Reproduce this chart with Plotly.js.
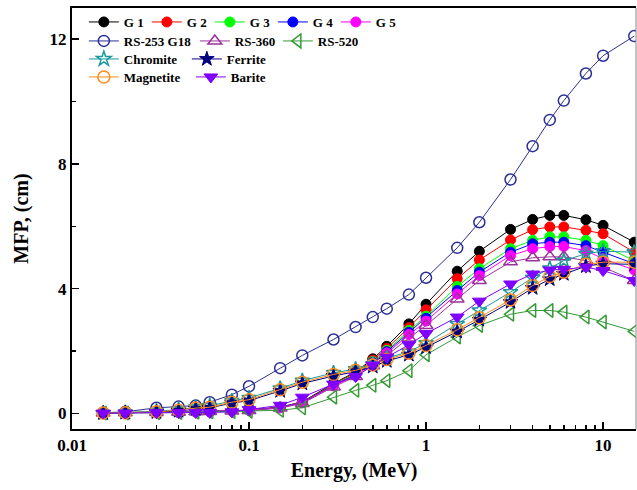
<!DOCTYPE html>
<html>
<head>
<meta charset="utf-8">
<script src="https://cdn.plot.ly/plotly-3.0.1.min.js"></script>
<style>
html,body{margin:0;padding:0;background:#fff;}
#chart{width:637px;height:490px;}
</style>
</head>
<body>
<div id="chart"></div>
<script>
// Photon energies (MeV)
const energy = [0.015,0.02,0.03,0.04,0.05,0.06,0.08,0.1,0.15,0.2,0.3,0.4,0.5,0.6,0.8,1,1.5,2,3,4,5,6,8,10,15];

// Mean free path (cm) per sample
const g1 = [0.01,0.02,0.03,0.04,0.05,0.06,0.08,0.11,0.2,0.37,0.96,1.33,1.75,2.15,2.87,3.5,4.56,5.2,5.9,6.22,6.35,6.35,6.21,6.03,5.49];
const g2 = [0.01,0.02,0.03,0.04,0.05,0.06,0.08,0.11,0.2,0.36,0.93,1.3,1.71,2.08,2.75,3.32,4.32,4.92,5.56,5.89,5.98,5.98,5.87,5.76,5.17];
const g3 = [0.01,0.02,0.03,0.04,0.05,0.06,0.08,0.1,0.19,0.35,0.91,1.27,1.66,2.02,2.66,3.12,4.07,4.64,5.28,5.55,5.66,5.66,5.55,5.38,4.9];
const g4 = [0.01,0.02,0.03,0.04,0.05,0.06,0.08,0.1,0.19,0.35,0.9,1.25,1.63,1.98,2.6,3.05,3.94,4.53,5.17,5.44,5.49,5.49,5.38,5.17,4.8];
const g5 = [0.01,0.02,0.03,0.04,0.05,0.06,0.08,0.1,0.18,0.34,0.88,1.22,1.59,1.94,2.53,2.96,3.83,4.42,5.06,5.28,5.35,5.35,5.22,4.96,4.6];
const rs253 = [0.02,0.05,0.18,0.22,0.25,0.36,0.6,0.87,1.45,1.86,2.37,2.77,3.09,3.36,3.81,4.35,5.31,6.13,7.5,8.57,9.41,10.03,10.9,11.47,12.1];
const rs360 = [0.01,0.02,0.03,0.04,0.05,0.06,0.08,0.09,0.17,0.32,0.85,1.18,1.53,1.86,2.42,2.82,3.67,4.26,4.86,4.99,5.02,5.02,4.9,4.69,4.26];
const rs520 = [0.01,0.01,0.02,0.03,0.04,0.05,0.06,0.07,0.1,0.18,0.52,0.74,0.9,1.05,1.37,1.88,2.45,2.82,3.18,3.3,3.3,3.25,3.09,2.93,2.63];
const chromite = [0.01,0.03,0.07,0.12,0.19,0.24,0.4,0.5,0.8,1.05,1.3,1.42,1.58,1.77,1.98,2.25,2.87,3.3,3.89,4.35,4.65,4.9,5.12,5.2,5.17];
const ferrite = [0.01,0.02,0.04,0.08,0.14,0.18,0.33,0.41,0.72,0.96,1.2,1.34,1.5,1.68,1.88,2.12,2.62,3.0,3.57,4.02,4.3,4.47,4.72,4.8,4.78];
const magnetite = [0.01,0.02,0.05,0.1,0.17,0.2,0.36,0.44,0.76,1.0,1.25,1.38,1.55,1.73,1.93,2.18,2.68,3.07,3.64,4.1,4.39,4.53,4.78,4.85,4.85];
const barite = [0.01,0.01,0.02,0.02,0.03,0.03,0.05,0.12,0.26,0.52,0.94,1.18,1.55,1.8,2.2,2.56,3.09,3.6,4.15,4.47,4.6,4.62,4.69,4.58,4.26];

const seriesNames = ['G 1','G 2','G 3','G 4','G 5','RS-253 G18','RS-360','RS-520','Chromite','Ferrite','Magnetite','Barite'];

function tr(name, y, color, symbol, size, legend, lw, mlw) {
  return {
    x: energy, y: y, name: name, type: 'scatter', mode: 'lines+markers',
    legend: legend, legendwidth: lw,
    line: {color: color, width: 1},
    marker: {color: color, symbol: symbol, size: size, line: {color: color, width: mlw}}
  };
}

const data = [
  tr(seriesNames[0], g1, '#000000', 'circle', 10, 'legend', 18, 1),
  tr(seriesNames[1], g2, '#ff0000', 'circle', 10, 'legend', 18, 1),
  tr(seriesNames[2], g3, '#00ff00', 'circle', 10, 'legend', 18, 1),
  tr(seriesNames[3], g4, '#0000ff', 'circle', 10, 'legend', 18, 1),
  tr(seriesNames[4], g5, '#ff00ff', 'circle', 10, 'legend', 18, 1),
  tr(seriesNames[5], rs253, '#2b2f94', 'circle-open', 11, 'legend2', 66, 1.5),
  tr(seriesNames[6], rs360, '#993399', 'triangle-up-open', 12, 'legend2', 38, 1.5),
  tr(seriesNames[7], rs520, '#339933', 'triangle-left-open', 12, 'legend2', 44, 1.5),
  tr(seriesNames[8], chromite, '#1a9a9a', 'star-open', 11, 'legend3', 58, 1.5),
  tr(seriesNames[9], ferrite, '#000080', 'star', 11, 'legend3', 44, 1),
  tr(seriesNames[10], magnetite, '#ff8c1a', 'circle-open', 12, 'legend4', 62, 1.5),
  tr(seriesNames[11], barite, '#8000ff', 'triangle-down', 12, 'legend4', 44, 1)
];

const lf = {family: 'Liberation Serif, Times New Roman, serif', size: 13, color: '#000', weight: 'bold'};
function leg(yc) {
  return {orientation: 'h', xref: 'paper', yref: 'paper', x: 0.021, y: yc,
          xanchor: 'left', yanchor: 'middle', font: lf, bgcolor: 'rgba(0,0,0,0)',
          borderwidth: 0, itemwidth: 30, tracegroupgap: 0, traceorder: 'normal'};
}

const tickFont = {family: 'Liberation Serif, Times New Roman, serif', size: 17, color: '#000', weight: 'bold'};
const titleFont = {family: 'Liberation Serif, Times New Roman, serif', size: 20, color: '#000', weight: 'bold'};

const layout = {
  width: 637, height: 490,
  margin: {l: 72, r: 1, t: 8, b: 61, autoexpand: false},
  paper_bgcolor: '#fff', plot_bgcolor: '#fff',
  showlegend: true,
  legend: leg((429 - 22) / 421),
  legend2: leg((429 - 41) / 421),
  legend3: leg((429 - 59) / 421),
  legend4: leg((429 - 77) / 421),
  xaxis: {
    type: 'log', range: [-2, 1.186], dtick: 1,
    showgrid: false, zeroline: false,
    showline: true, linecolor: '#000', linewidth: 2, mirror: true,
    ticks: 'inside', ticklen: 7, tickwidth: 1.5, tickcolor: '#000',
    minor: {ticks: 'inside', ticklen: 4, tickwidth: 1.5, tickcolor: '#000', dtick: 'D1', showgrid: false},
    tickfont: tickFont,
    title: {text: 'Energy, (MeV)', font: titleFont, standoff: 9}
  },
  yaxis: {
    range: [-0.5, 13], dtick: 4, tick0: 0,
    showgrid: false, zeroline: false,
    showline: true, linecolor: '#000', linewidth: 2,
    ticks: 'inside', ticklen: 7, tickwidth: 1.5, tickcolor: '#000',
    minor: {ticks: 'inside', ticklen: 4, tickwidth: 1.5, tickcolor: '#000', dtick: 2, showgrid: false},
    tickfont: tickFont,
    title: {text: 'MFP, (cm)', font: titleFont, standoff: 16}
  },
  shapes: [{type: 'line', xref: 'paper', yref: 'paper', x0: 1, x1: 1, y0: 0, y1: 1,
            line: {color: '#888', width: 1}}]
};

Plotly.newPlot('chart', data, layout, {displayModeBar: false, staticPlot: true});
</script>
</body>
</html>
